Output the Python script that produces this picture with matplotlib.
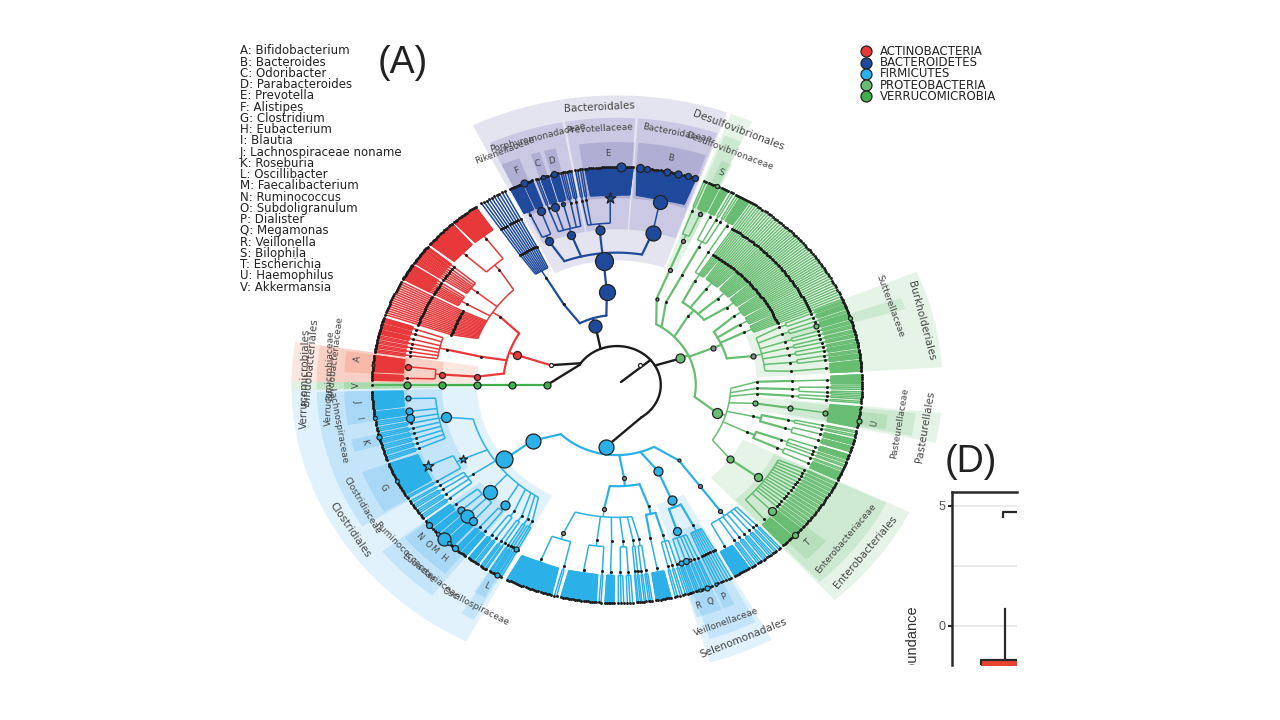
import numpy as np
import matplotlib
matplotlib.use('Agg')
import matplotlib.pyplot as plt
from matplotlib.collections import LineCollection
from matplotlib.transforms import Bbox

# tree helpers: a family/order is n(...), a genus is g(leaves) or a plain int
def n(*kids, s=0, c=None, m='o', span=None, gap=None):
    return dict(kids=list(kids), s=s, c=c, m=m, span=span, gap=gap)

def g(k, s=0, c=None, m='o'):
    return dict(leaves=k, s=s, c=c, m=m, span=None)

def st(k, a, b):
    # k single-leaf families side by side between angles a and b
    w = (b - a) / k
    return [n(1, span=(a + i * w, a + (i + 0.8) * w)) for i in range(k)]

GREY = '#8a8a8a'

ACTINO = n(n(
    n(n(g(14), g(16), span=(125, 140)),
      n(3, 3, 2, 2, 2, 2, 2, 2, span=(140.5, 146)),
      n(3, 3, 2, 2, 2, 2, 2, 2, span=(146.5, 151)),
      *st(17, 151.5, 161.5), span=(125, 161.5)),
    n(n(g(4), g(4), g(4), g(3), 3, 3, 3, span=(162, 171.5)), span=(162, 171.5)),
    n(n(g(9, s=6), g(4), s=6), s=6, span=(172, 179)),
    s=8), s=4, c='white')

VERRUCO = n(n(n(n(g(1, s=7), s=7), s=7), s=7), s=7, span=(180, 180))

BACTERO = n(
    n(n(n(g(29, s=14), s=15, span=(71, 85.5)),
        n(g(24, s=8, m='*'), 2, 2, s=9, span=(86, 100)),
        n(3, 3, g(5, s=4), g(5, s=8), 2, s=8, span=(100.5, 109.5)),
        n(g(6, s=8), g(8), s=8, span=(110, 116)),
        s=18, span=(70.5, 116)), s=16),
    n(n(*st(10, 117, 124), span=(117, 124))),
    s=13)

FIRMI = n(
    n(n(n(g(11, s=5), g(5, s=7), g(3, s=8), 3, 3, 3, 3, 3, 3, s=10, span=(181.5, 200.5)),
        n(g(20, s=8, m='*'), 2, s=6, m='*', span=(201, 211.5)),
        n(2, 3, 3, 3, span=(212, 218)),
        n(g(5), g(4, s=7), g(4, s=13), g(5, s=8), s=14, span=(218.5, 228)),
        n(g(4), g(4), s=9, span=(228.5, 232)),
        n(g(4), 3, span=(232.5, 235.5)),
        n(g(3), 2, span=(236, 238)),
        n(2, 2, span=(238.5, 240)),
        n(2, g(2, s=5), 1, span=(240, 242)),
        s=17, span=(181.5, 242)), s=15),
    n(n(n(g(22), 2, s=4, c=GREY, span=(243, 256)), n(g(18), 2, span=(256.5, 266.5)),
        n(g(6), span=(267, 269.5)), n(3, 3, span=(270, 274)), n(2, 2, span=(274.5, 276)), n(2, 3, span=(276.2, 278.5)),
        s=4, c=GREY, span=(243, 278.5)),
      n(n(g(8), span=(279, 283)), n(2, 2, 2, span=(283.5, 287)), span=(279, 287)),
      s=4, c=GREY),
    n(n(n(g(3, s=5), g(3, s=6), g(2, s=3, c=GREY), 2, 2, s=8, span=(287, 293)),
        n(1, 1, 1, 1, 1, 1, 1, span=(293.5, 298)), s=9), s=9, span=(287, 298)),
    n(n(n(g(9), 3, 3, 3, 3, 2, 2, s=4, c=GREY), s=4, c=GREY), s=3, c=GREY, span=(298.5, 312)),
    s=15)

PROTEO = n(
    n(n(n(g(8), g(6, s=8), 2, 2, 2, 2, 2, 2, 2, 2, 2, 2, 2, 2, 2, 2, s=8), s=7, span=(-47.5, -26.5)),
      n(n(g(6), 2), n(2, 2, g(4)), span=(-26, -18.5)),
      n(n(g(4), g(4)), n(2, 2), span=(-18, -12)),
      n(n(g(10, s=5), s=5), s=5, span=(-11.5, -5.5)),
      n(n(2, 2), span=(-5, -3)),
      n(n(3, 3), span=(-3, 0)),
      n(n(g(5)), span=(0, 3)),
      s=10),
    n(n(n(g(9)), n(g(4), 3), n(4, 3), n(3, 3), n(3, 3), n(g(5, s=5), 2), n(4, 3), s=5, c=GREY, span=(3.5, 23)),
      n(*st(6, 23, 27), span=(23, 27)),
      n(*st(6, 27, 31), span=(27, 31)),
      n(*st(8, 31, 36), span=(31, 36)),
      s=5, c=GREY, span=(3.5, 36)),
    n(n(*st(8, 36, 41), span=(36, 41)),
      n(*st(10, 41, 47), span=(41, 47)),
      n(*st(11, 47, 54), span=(47, 54)),
      n(*st(5, 54, 57), n(g(6), span=(57, 60)), span=(54, 60)),
      span=(36, 60)),
    n(n(n(2, 2, g(4))), span=(60, 65)),
    n(n(n(g(6, s=4, c=GREY), 2, s=4, c=GREY), s=4, c=GREY), s=3, c=GREY, span=(65, 69.5)),
    s=9)

PHYLA = ['ACTINOBACTERIA', 'BACTEROIDETES', 'FIRMICUTES', 'PROTEOBACTERIA', 'VERRUCOMICROBIA']
PHYLUM_COLORS = ['#e8383a', '#1f4a9c', '#2bb0e8', '#68bd72', '#3fae4b']
PHYLUM_TREES = [ACTINO, BACTERO, FIRMI, PROTEO, VERRUCO]
PHYLUM_SPANS = [(125, 179), (70, 124), (181.5, 312), (-47.5, 69.5), (180, 180)]
ROOT_JOINS = [146, 112, -56, 30, 149]

# highlighted species on the outer ring: angle, size, phylum index
SPECIES_ANGLE = [89.1, 84.6, 83, 78.2, 75.6, 73.2, 71.4, 112.3, 107.5, 105,
                 174.7, 188.7, 193.8, 206, 219.8, 223, 225, 226.6, 228.5, 240.6,
                 289.7, 291.5, 293.8, 316.6, 350.5, 18, 66]
SPECIES_SIZE = [9, 8, 6, 7, 7, 6, 6, 7, 4, 6,
                3, 4, 5, 4, 6, 4, 13, 4, 6, 5,
                3, 5, 3, 6, 5, 4, 4]
SPECIES_PHYLUM = [1, 1, 1, 1, 1, 1, 1, 1, 1, 1,
                  0, 2, 2, 2, 2, 2, 2, 2, 2, 2,
                  2, 2, 2, 3, 3, 3, 3]

# shaded sectors: name, angle from, angle to, colour index
ORDERS = [('Bacteroidales', 70.2, 116.3, 1), ('Clostridiales', 181, 242.4, 2),
          ('Selenomonadales', 286.6, 298.4, 2), ('Enterobacteriales', 312, 334, 3),
          ('Pasteurellales', 348.5, 354.5, 3), ('Burkholderiales', 3.5, 23, 3),
          ('Desulfovibrionales', 65.5, 69.5, 3), ('Bifidobacteriales', 171.4, 179.3, 0),
          ('Verrucomicrobiales', 179.3, 181, 4)]
ORDER_LABEL_POS = [(8.95, 93.3), (8.94, 211.4), (8.9, 293.9), (8.91, 322.9),
                   (8.9, 351.3), (8.93, 13.3), (8.9, 67), (8.8, 175.2), (8.9, 178.7)]
FAMILIES = [('Rikenellaceae', 110.5, 115, 1), ('Porphyromonadaceae', 100.5, 110.5, 1),
            ('Prevotellaceae', 86.5, 100, 1), ('Bacteroidaceae', 70.5, 86, 1),
            ('Lachnospiraceae', 181.5, 201.6, 2), ('Clostridiaceae', 201.6, 212, 2),
            ('Ruminococcaceae', 218.5, 226.3, 2), ('Eubacteriaceae', 226.3, 232, 2),
            ('Oscillospiraceae', 238.8, 241.5, 2), ('Veillonellaceae', 288, 297.5, 2),
            ('Enterobacteriaceae', 312.5, 333.8, 3), ('Pasteurellaceae', 349, 354, 3),
            ('Sutterellaceae', 16.5, 19, 3), ('Desulfovibrionaceae', 65.5, 69, 3),
            ('Bifidobacteriaceae', 171.5, 179.3, 0), ('Verrucomicrobiaceae', 179.3, 181, 4)]
FAMILY_LABEL_POS = [(8.17, 113), (8.26, 105.9), (8.24, 93.4), (8.28, 78),
                    (8.08, 189.4), (8.25, 207.9), (8.1, 221.5), (8.14, 229),
                    (8.2, 240.4), (8.23, 292.2), (8.18, 323), (8.18, 351.4),
                    (8.2, 18), (8.16, 66.9), (8.1, 174), (8.2, 178.5)]
GENERA = [('A', 172, 177, 173.6, 0), ('V', 179.3, 181, 180, 4), ('J', 181.5, 187, 184, 2),
          ('I', 187, 189.5, 188.2, 2), ('K', 193, 196, 194.2, 2), ('G', 201, 211.5, 206.3, 2),
          ('N', 219, 222, 220.7, 2), ('O', 222, 224.5, 223.3, 2), ('M', 224.5, 226, 225.2, 2),
          ('H', 226, 231, 228.2, 2), ('L', 238.5, 241, 240, 2), ('R', 287, 290, 288.2, 2),
          ('Q', 290, 292.5, 291, 2), ('P', 293, 295.5, 294.2, 2), ('T', 314, 320, 317.2, 3),
          ('U', 349.5, 353, 350.4, 3), ('S', 65, 67.5, 66.5, 3), ('B', 71, 85.5, 78.2, 1),
          ('E', 86.3, 98, 92, 1), ('D', 103, 105.5, 104.5, 1), ('C', 106.4, 108.4, 107.7, 1),
          ('F', 111, 115, 112.7, 1)]
SECTOR_COLORS = ['#f0603c', '#4f47a0', '#3aa8ec', '#5cb868', '#3fae4b']

GENUS_KEY = ['A: Bifidobacterium', 'B: Bacteroides', 'C: Odoribacter', 'D: Parabacteroides',
             'E: Prevotella', 'F: Alistipes', 'G: Clostridium', 'H: Eubacterium', 'I: Blautia',
             'J: Lachnospiraceae noname', 'K: Roseburia', 'L: Oscillibacter', 'M: Faecalibacterium',
             'N: Ruminococcus', 'O: Subdoligranulum', 'P: Dialister', 'Q: Megamonas',
             'R: Veillonella', 'S: Bilophila', 'T: Escherichia', 'U: Haemophilus', 'V: Akkermansia']

# panel D
D_TICKS = [5, 0]
D_GRID = [5, 2.5, 0]
D_WHISKER = [-1.4, 0.7]
D_BOX_TOP = -1.4
D_BRACKET = [4.54, 4.75]

UX, UY = 35.0, 31.14
CX, CY = 617.0, 385.0

fig = plt.figure(figsize=(12.8, 7.2), dpi=100)
ax = fig.add_axes([0, 0, 1, 1])
ax.set_xlim(-CX / UX, (1280 - CX) / UX)
ax.set_ylim((CY - 720) / UY, CY / UY)
ax.axis('off')


def pol(theta, r):
    t = np.radians(theta)
    return r * np.cos(t), r * np.sin(t)


def arc_pts(a, b, r):
    k = max(2, int(abs(b - a)) + 2)
    return [pol(t, r) for t in np.linspace(a, b, k)]


def psize(d):
    return (d * 0.72) ** 2


def sector(a, b, r0, r1, col, alpha, z=1):
    pts = arc_pts(a, b, r0) + arc_pts(b, a, r1)
    ax.fill([p[0] for p in pts], [p[1] for p in pts], color=col, alpha=alpha, lw=0, zorder=z)


def text_rot(theta):
    t = np.radians(theta)
    if np.sin(t) >= -1e-6:
        return np.degrees(np.arctan2(-UY * np.cos(t), UX * np.sin(t)))
    return np.degrees(np.arctan2(UY * np.cos(t), -UX * np.sin(t)))


def curved_text(label, theta, r, size):
    x, y = pol(theta, r)
    ax.text(x, y, label, rotation=text_rot(theta), rotation_mode='anchor', ha='center', va='center',
            fontsize=size, color='#454545', zorder=7)


for (name, a, b, ci), (r, th) in zip(ORDERS, ORDER_LABEL_POS):
    sector(a, b, 4, 9.3, SECTOR_COLORS[ci], 0.15)
    curved_text(name, th, r, 7.5)
for (name, a, b, ci), (r, th) in zip(FAMILIES, FAMILY_LABEL_POS):
    sector(a, b, 5, 8.58, SECTOR_COLORS[ci], 0.17)
    curved_text(name, th, r, 6.5)
for name, a, b, th, ci in GENERA:
    sector(a, b, 6, 7.8, SECTOR_COLORS[ci], 0.2)
    curved_text(name, th, 7.45, 6.2)

# branch and node collectors
branches, twigs, dots_x, dots_y, ring_x, ring_y = [], [], [], [], [], []
marks = []
solid = []


def weight(node):
    if isinstance(node, int):
        return node
    if 'leaves' in node:
        return node['leaves']
    return sum(weight(k) for k in node['kids']) + node_gap(node) * (len(node['kids']) - 1)


def node_gap(node):
    if node['gap'] is not None:
        return node['gap']
    if all(isinstance(k, int) or 'leaves' in k for k in node['kids']):
        return 0.35
    return 0.7


def fan(th, r, kid_th, out, f, dr):
    if len(kid_th) == 1 and abs(kid_th[0] - th) < 0.01:
        out.append([pol(th, r), pol(th, r + 1)])
        return
    ra = r + dr
    corners = [th + f * (t - th) for t in kid_th]
    out.append(arc_pts(min(corners + [th]), max(corners + [th]), ra))
    out.append([pol(th, r), pol(th, ra)])
    for c, t in zip(corners, kid_th):
        out.append([pol(c, ra), pol(t, r + 1)])


def place(node, a, b, r, ci, seg):
    if isinstance(node, int):
        node = g(node)
    if node['span'] is not None:
        a, b = node['span']
    if 'leaves' in node:
        k = node['leaves']
        ths = [a + (i + 0.5) * (b - a) / k for i in range(k)]
        th = 0.5 * (a + b)
        fan(th, r, ths, twigs[ci], 0.93, 0.12)
        if k >= 4:
            # dense genera read as a solid block
            pts = [pol(th + 0.93 * (ths[0] - th), r + 0.12), pol(ths[0], r + 1),
                   pol(ths[-1], r + 1), pol(th + 0.93 * (ths[-1] - th), r + 0.12)]
            solid.append((pts, PHYLUM_COLORS[ci]))
        for t in ths:
            x, y = pol(t, r + 1)
            ring_x.append(x)
            ring_y.append(y)
    else:
        kids = node['kids']
        gp = node_gap(node)
        total = sum(weight(k) for k in kids) + gp * (len(kids) - 1)
        pos = a
        ths = []
        for kid in kids:
            w = weight(kid) * (b - a) / total if total > 0 else 0
            ths.append(place(kid, pos, pos + w, r + 1, ci, seg))
            pos += w + gp * (b - a) / total
        th = 0.5 * (ths[0] + ths[-1])
        # crowded fans and everything past the family level get the thin line
        out = twigs[ci] if (r >= 5 or len(ths) > 5) else seg
        if r <= 3:
            fan(th, r, ths, out, 0.82, 0.25)
        elif r == 4:
            fan(th, r, ths, out, 0.88, 0.25)
        else:
            fan(th, r, ths, out, 0.93, 0.2)
    x, y = pol(th, r)
    if node['s'] > 0:
        marks.append((x, y, node['s'], node['c'] or PHYLUM_COLORS[ci], node['m']))
    else:
        dots_x.append(x)
        dots_y.append(y)
    return th


for ci in range(len(PHYLA)):
    branches.append([])
    twigs.append([])

root_seg = [arc_pts(ROOT_JOINS[2], ROOT_JOINS[4], 1.25), [pol(40, 0.15), pol(40, 1.25)]]
for ci, tree in enumerate(PHYLUM_TREES):
    a, b = PHYLUM_SPANS[ci]
    th = place(tree, a, b, 2, ci, branches[ci])
    root_seg.append([pol(ROOT_JOINS[ci], 1.25), pol(th, 2)])

ax.add_collection(LineCollection(root_seg, colors='#1c1c1c', linewidths=1.7, zorder=3, capstyle='round'))
for pts, col in solid:
    ax.fill([p[0] for p in pts], [p[1] for p in pts], color=col, lw=1.0, zorder=3, joinstyle='round')
for ci, col in enumerate(PHYLUM_COLORS):
    ax.add_collection(LineCollection(twigs[ci], colors=col, linewidths=1.1, zorder=3, capstyle='butt'))
    ax.add_collection(LineCollection(branches[ci], colors=col, linewidths=1.6, zorder=3.2, capstyle='round'))

ax.scatter(ring_x, ring_y, s=psize(2.9), c='#1c1c1c', lw=0, zorder=4)
ax.scatter(dots_x, dots_y, s=psize(3.0), c='#1c1c1c', lw=0, zorder=4.2)
x, y = pol(44, 0.92)
marks.append((x, y, 4, 'white', 'o'))
for th, d, ci in zip(SPECIES_ANGLE, SPECIES_SIZE, SPECIES_PHYLUM):
    x, y = pol(th, 7)
    marks.append((x, y, d, PHYLUM_COLORS[ci], 'o'))
for x, y, d, col, m in marks:
    ax.scatter([x], [y], s=psize(d) * (2.0 if m == '*' else 1.0), c=col, marker=m,
               edgecolors='#222222', linewidths=0.9, zorder=5)


def fx(x):
    return x / 1280.0


def fy(y):
    return 1 - y / 720.0


for i, label in enumerate(GENUS_KEY):
    fig.text(fx(240), fy(51 + i * 11.24), label, fontsize=8.45, color='#222222', va='center')
for i, label in enumerate(PHYLA):
    yy = 51.5 + i * 11.2
    ax.scatter([(866 - CX) / UX], [(CY - yy) / UY], s=psize(11), c=PHYLUM_COLORS[i],
               edgecolors='#222222', linewidths=0.9, zorder=6)
    fig.text(fx(880), fy(yy), label, fontsize=8.5, color='#222222', va='center')

fig.text(fx(403), fy(63), '(A)', fontsize=27, family='Liberation Sans', color='#222222', ha='center', va='center')
fig.text(fx(971), fy(462), '(D)', fontsize=27, family='Liberation Sans', color='#222222', ha='center', va='center')

# panel D, cut off by the crop of the source picture
axd = fig.add_axes([fx(952), fy(665), fx(1017) - fx(952), (665 - 492) / 720.0])
axd.set_xlim(0, 65)
axd.set_ylim(-39 / 24.0, 134 / 24.0)
for v in D_GRID:
    axd.axhline(v, color='#e8e8e8', lw=1.3, zorder=1)
axd.plot([53, 53], D_WHISKER, color='#2a2a2a', lw=1.6, zorder=2)
axd.fill_between([29, 65], -2, D_BOX_TOP, color='#e8432e', lw=0, zorder=3)
axd.plot([29, 29, 65], [-2, D_BOX_TOP, D_BOX_TOP], color='#2a2a2a', lw=1.6, zorder=4)
axd.plot([51, 51, 65], [D_BRACKET[0], D_BRACKET[1], D_BRACKET[1]], color='#2a2a2a', lw=1.6, zorder=4)
for side in ['right', 'bottom']:
    axd.spines[side].set_visible(False)
for side in ['left', 'top']:
    axd.spines[side].set_linewidth(1.8)
    axd.spines[side].set_color('#2a2a2a')
axd.set_xticks([])
axd.set_yticks(D_TICKS)
axd.tick_params(axis='y', labelsize=9, labelcolor='#555555', length=3, width=1.5, color='#2a2a2a', pad=2)
for lab in axd.get_yticklabels():
    lab.set_family('Liberation Sans')

yl = fig.text(fx(912), fy(605), 'abundance', rotation=90, rotation_mode='anchor', ha='right', va='center',
              fontsize=10.5, family='Liberation Sans', color='#333333')
yl.set_clip_box(Bbox([[880, 720 - 665], [940, 720 - 590]]))
yl.set_clip_on(True)

fig.savefig('out.png', dpi=100, facecolor='white')
